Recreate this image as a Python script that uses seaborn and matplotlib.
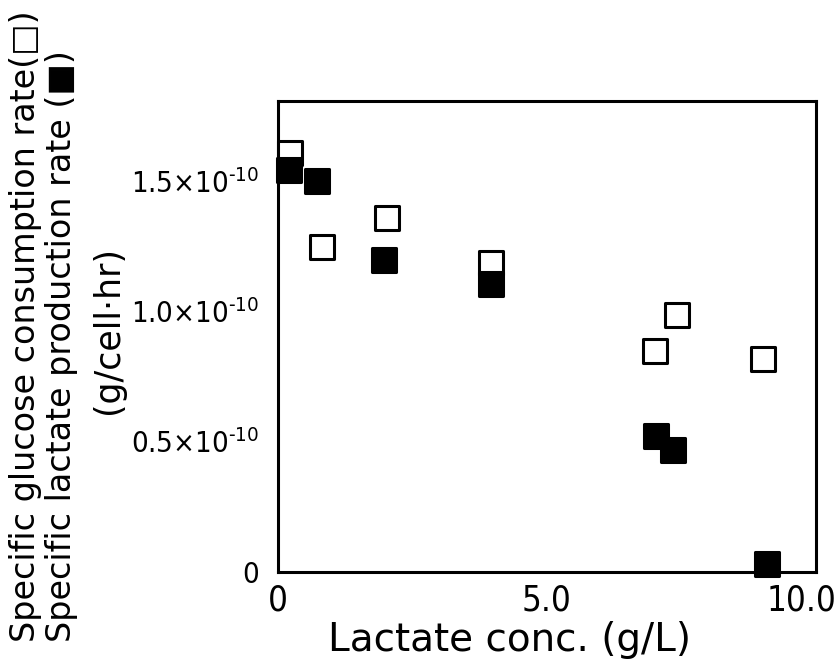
import matplotlib
matplotlib.use("Agg")
import matplotlib.pyplot as plt
from matplotlib import font_manager
from matplotlib.transforms import ScaledTranslation
import pandas as pd
import seaborn as sns

# Lactate concentration (g/L) against specific rates (x1e-10 g/cell.hr)
glucose_conc = [0.22, 0.81, 2.02, 3.96, 7.00, 7.41, 9.02]
glucose_rate = [1.607, 1.244, 1.355, 1.183, 0.847, 0.985, 0.817]
lactate_conc = [0.20, 0.72, 1.98, 3.96, 7.02, 7.35, 9.09]
lactate_rate = [1.542, 1.500, 1.195, 1.103, 0.523, 0.466, 0.030]

x_ticks = [0, 5, 10]
x_tick_labels = ["0", "5.0", "10.0"]
y_ticks = [0, 0.5, 1.0, 1.5]
y_tick_labels = [
    "0",
    "$\\mathregular{0.5{\\times}10^{\u201010}}$",
    "$\\mathregular{1.0{\\times}10^{\u201010}}$",
    "$\\mathregular{1.5{\\times}10^{\u201010}}$",
]

glucose_df = pd.DataFrame({"conc": glucose_conc, "rate": glucose_rate})
lactate_df = pd.DataFrame({"conc": lactate_conc, "rate": lactate_rate})

sns.set_style("white")
# Prefer a condensed face for the tick numbers when one is installed
fonts = font_manager.fontManager.ttflist
narrow_faces = [f for f in fonts
                if f.stretch in ("condensed", "semi-condensed", "extra-condensed")
                or "Narrow" in f.name or "Condensed" in f.name]
narrow = narrow_faces[0].name if narrow_faces else "DejaVu Sans"
narrow_stretch = narrow_faces[0].stretch if narrow_faces else "normal"
plt.rcParams["font.family"] = ["DejaVu Sans"]
plt.rcParams["text.color"] = "black"
plt.rcParams["xtick.color"] = "black"
plt.rcParams["ytick.color"] = "black"

fig = plt.figure(figsize=(8.38, 6.68), dpi=100)
ax = fig.add_axes([0.3317, 0.1437, 0.642, 0.7051])

sns.scatterplot(data=glucose_df, x="conc", y="rate", marker="s", s=290,
                color="white", edgecolor="black", linewidth=2.2,
                ax=ax, clip_on=False, zorder=3, legend=False)
sns.scatterplot(data=lactate_df, x="conc", y="rate", marker="s", s=290,
                color="black", edgecolor="black", linewidth=2.2,
                ax=ax, clip_on=False, zorder=4, legend=False)

ax.set_xlim(0, 10)
ax.set_ylim(0, 1.805)
ax.set_xticks(x_ticks)
ax.set_xticklabels(x_tick_labels)
ax.set_yticks(y_ticks)
ax.set_yticklabels(y_tick_labels)
ax.tick_params(axis="x", direction="in", length=10, width=2, labelsize=25, pad=8)
ax.tick_params(axis="y", direction="in", length=7, width=2, labelsize=21, pad=14)
for lab in ax.get_xticklabels() + ax.get_yticklabels():
    lab.set_family(narrow)
    lab.set_stretch(narrow_stretch)
# keep the last x label inside the canvas
last = ax.get_xticklabels()[-1]
last.set_transform(last.get_transform()
                   + ScaledTranslation(-14 / 100, 0, fig.dpi_scale_trans))
for sp in ax.spines.values():
    sp.set_visible(True)
    sp.set_linewidth(2.2)
    sp.set_color("black")
ax.set_xlabel("")
ax.set_ylabel("")

fig.text(0.608, 1 - 640 / 668, "Lactate conc. (g/L)", ha="center", va="center",
         fontsize=28)
fig.text(26 / 838, 1 - 642 / 668, "Specific glucose consumption rate(\u25a1)",
         rotation=90, ha="center", va="bottom", fontsize=24)
fig.text(62 / 838, 1 - 642 / 668, "Specific lactate production rate (\u25a0)",
         rotation=90, ha="center", va="bottom", fontsize=24)
fig.text(108 / 838, 1 - 330 / 668, "(g/cell\u00b7hr)", rotation=90,
         ha="center", va="center", fontsize=25)

fig.savefig("out.png", dpi=100)
